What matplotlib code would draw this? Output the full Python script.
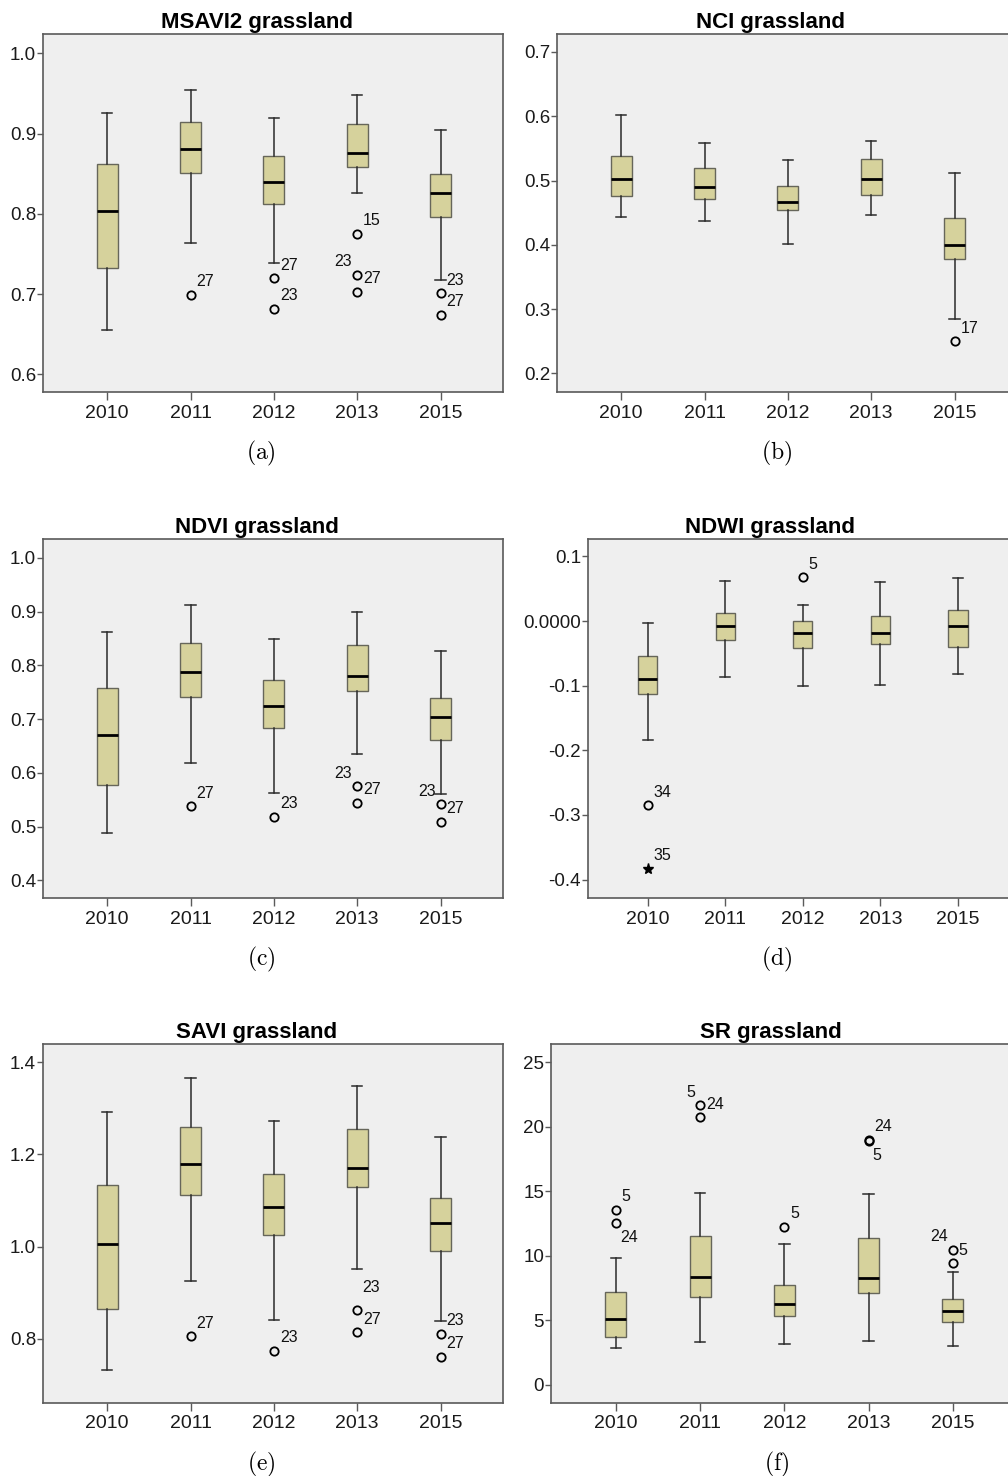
import matplotlib
matplotlib.use('Agg')
import matplotlib.pyplot as plt

plt.rcParams['font.family'] = ['Liberation Sans', 'DejaVu Sans']
plt.rcParams['mathtext.fontset'] = 'cm'

years = ['2010', '2011', '2012', '2013', '2015']

# each year: (whisker low, Q1, median, Q3, whisker high)
msavi2_stats = [(0.655, 0.732, 0.803, 0.862, 0.926),
                (0.764, 0.851, 0.881, 0.914, 0.954),
                (0.739, 0.812, 0.840, 0.872, 0.919),
                (0.826, 0.858, 0.876, 0.912, 0.948),
                (0.718, 0.796, 0.826, 0.850, 0.905)]
msavi2_out = [[], [(0.699, '27')], [(0.720, '27'), (0.682, '23')],
              [(0.775, '15'), (0.724, '23'), (0.703, '27')],
              [(0.701, '23'), (0.674, '27')]]
msavi2_lab = [[], ['ur'], ['ur', 'ur'], ['ur', 'ul', 'ur'], ['ur', 'ur']]

nci_stats = [(0.444, 0.476, 0.503, 0.538, 0.602),
             (0.437, 0.472, 0.490, 0.519, 0.558),
             (0.402, 0.454, 0.466, 0.492, 0.532),
             (0.447, 0.477, 0.503, 0.533, 0.562),
             (0.284, 0.378, 0.399, 0.442, 0.512)]
nci_out = [[], [], [], [], [(0.250, '17')]]
nci_lab = [[], [], [], [], ['ur']]

ndvi_stats = [(0.488, 0.577, 0.671, 0.757, 0.862),
              (0.618, 0.741, 0.787, 0.841, 0.912),
              (0.562, 0.684, 0.725, 0.772, 0.849),
              (0.635, 0.753, 0.780, 0.837, 0.900),
              (0.560, 0.661, 0.703, 0.739, 0.826)]
ndvi_out = [[], [(0.538, '27')], [(0.518, '23')],
            [(0.575, '23'), (0.544, '27')],
            [(0.541, '23'), (0.509, '27')]]
ndvi_lab = [[], ['ur'], ['ur'], ['ul', 'ur'], ['ul', 'ur']]

ndwi_stats = [(-0.184, -0.113, -0.090, -0.054, -0.003),
              (-0.087, -0.030, -0.007, 0.013, 0.062),
              (-0.101, -0.042, -0.019, 0.000, 0.025),
              (-0.099, -0.036, -0.018, 0.008, 0.060),
              (-0.082, -0.040, -0.007, 0.017, 0.067)]
ndwi_out = [[(-0.285, '34')], [], [(0.068, '5')], [], []]
ndwi_lab = [['ur'], [], ['ur'], [], []]
ndwi_extreme = [[(-0.383, '35')], [], [], [], []]

savi_stats = [(0.731, 0.864, 1.005, 1.134, 1.293),
              (0.925, 1.111, 1.179, 1.260, 1.367),
              (0.841, 1.025, 1.086, 1.157, 1.272),
              (0.951, 1.129, 1.170, 1.256, 1.348),
              (0.839, 0.990, 1.052, 1.106, 1.237)]
savi_out = [[], [(0.805, '27')], [(0.774, '23')],
            [(0.861, '23'), (0.814, '27')],
            [(0.810, '23'), (0.761, '27')]]
savi_lab = [[], ['ur'], ['ur'], ['uu', 'ur'], ['ur', 'ur']]

sr_stats = [(2.85, 3.70, 5.08, 7.20, 9.82),
            (3.29, 6.76, 8.37, 11.55, 14.90),
            (3.13, 5.36, 6.24, 7.75, 10.91),
            (3.37, 7.07, 8.26, 11.35, 14.77),
            (3.03, 4.84, 5.70, 6.63, 8.73)]
sr_out = [[(13.55, '5'), (12.56, '24')],
          [(21.66, '5'), (20.73, '24')],
          [(12.23, '5')],
          [(18.99, '24'), (18.91, '5')],
          [(10.47, '24'), (9.40, '5')]]
sr_lab = [['ur', 'lr'], ['ul', 'ur'], ['ur'], ['ur', 'lr'], ['ul', 'ur']]

# label offsets (pixels) and alignment
offsets = {'ur': (6, 13, 'left'), 'ul': (-5, 13, 'right'),
           'lr': (4, -15, 'left'), 'uu': (5, 23, 'left')}

box_fill = '#d6d29c'
box_edge = '#66665a'
bg = '#efefef'
frame = '#5a5a5a'

W, H = 1008, 1476
fig = plt.figure(figsize=(W / 100, H / 100), dpi=100)


def add_panel(rect, title, caption, stats, outs, labs, ylim, yticks, yticklabels,
              col_x, cap_x, extremes=None):
    left, top, width, height = rect
    ax = fig.add_axes([left / W, 1 - (top + height) / H, width / W, height / H])
    ax.set_facecolor(bg)
    bstats = []
    for (lo, q1, med, q3, hi), fl in zip(stats, outs):
        bstats.append(dict(whislo=lo, q1=q1, med=med, q3=q3, whishi=hi,
                           fliers=[v for v, _ in fl]))
    ax.bxp(bstats, positions=range(len(years)), widths=0.25, patch_artist=True,
           manage_ticks=False,
           boxprops=dict(facecolor=box_fill, edgecolor=box_edge, linewidth=1.0),
           medianprops=dict(color='black', linewidth=2.0),
           whiskerprops=dict(color='#2a2a2a', linewidth=1.1),
           capprops=dict(color='#2a2a2a', linewidth=1.1),
           flierprops=dict(marker='o', markerfacecolor='none', markeredgecolor='black',
                           markersize=6, markeredgewidth=1.3))
    for i, (fl, lb) in enumerate(zip(outs, labs)):
        for (v, t), k in zip(fl, lb):
            dx, dy, ha = offsets[k]
            ax.annotate(t, (i, v), xytext=(dx, dy), textcoords='offset pixels',
                        ha=ha, va='center', fontsize=11.5, color='#111111')
    if extremes:
        for i, ex in enumerate(extremes):
            for v, t in ex:
                ax.plot([i], [v], marker='*', color='black', markersize=8, linestyle='none')
                dx, dy, ha = offsets['ur']
                ax.annotate(t, (i, v), xytext=(dx, dy), textcoords='offset pixels',
                            ha=ha, va='center', fontsize=11.5, color='#111111')
    ax.set_xlim(-0.77, 4.75)
    ax.set_ylim(*ylim)
    ax.set_xticks(range(len(years)))
    ax.set_xticklabels(years)
    ax.set_yticks(yticks)
    ax.set_yticklabels(yticklabels)
    ax.tick_params(axis='y', length=4, width=1, color=frame, pad=1, labelsize=13.5,
                   labelcolor='#1a1a1a')
    ax.tick_params(axis='x', length=6, width=1, color=frame, pad=3, labelsize=14,
                   labelcolor='#1a1a1a')
    for s in ax.spines.values():
        s.set_color(frame)
        s.set_linewidth(1.2)
    fig.text(col_x / W, 1 - (top - 6) / H, title, ha='center', va='baseline',
             fontsize=16, fontweight='bold')
    fig.text(cap_x / W, 1 - (top + height + 61) / H, r'$\mathrm{(' + caption + ')}$',
             ha='center', va='center', fontsize=17)
    return ax


add_panel((43, 34, 460, 358), 'MSAVI2 grassland', 'a', msavi2_stats, msavi2_out, msavi2_lab,
          (0.578, 1.024), [0.6, 0.7, 0.8, 0.9, 1.0], ['0.6', '0.7', '0.8', '0.9', '1.0'],
          257, 261)
add_panel((557, 34, 460, 358), 'NCI grassland', 'b', nci_stats, nci_out, nci_lab,
          (0.171, 0.728), [0.2, 0.3, 0.4, 0.5, 0.6, 0.7],
          ['0.2', '0.3', '0.4', '0.5', '0.6', '0.7'], 771, 777)
add_panel((43, 539, 460, 359), 'NDVI grassland', 'c', ndvi_stats, ndvi_out, ndvi_lab,
          (0.367, 1.035), [0.4, 0.5, 0.6, 0.7, 0.8, 0.9, 1.0],
          ['0.4', '0.5', '0.6', '0.7', '0.8', '0.9', '1.0'], 257, 261)
add_panel((588, 539, 428, 359), 'NDWI grassland', 'd', ndwi_stats, ndwi_out, ndwi_lab,
          (-0.4285, 0.127), [-0.4, -0.3, -0.2, -0.1, 0.0, 0.1],
          ['-0.4', '-0.3', '-0.2', '-0.1', '0.0000', '0.1'], 770, 777,
          extremes=ndwi_extreme)
add_panel((43, 1044, 460, 359), 'SAVI grassland', 'e', savi_stats, savi_out, savi_lab,
          (0.66, 1.44), [0.8, 1.0, 1.2, 1.4], ['0.8', '1.0', '1.2', '1.4'], 257, 261)
add_panel((551, 1044, 465, 359), 'SR grassland', 'f', sr_stats, sr_out, sr_lab,
          (-1.43, 26.43), [0, 5, 10, 15, 20, 25], ['0', '5', '10', '15', '20', '25'],
          771, 777)

fig.savefig('out.png', dpi=100)
